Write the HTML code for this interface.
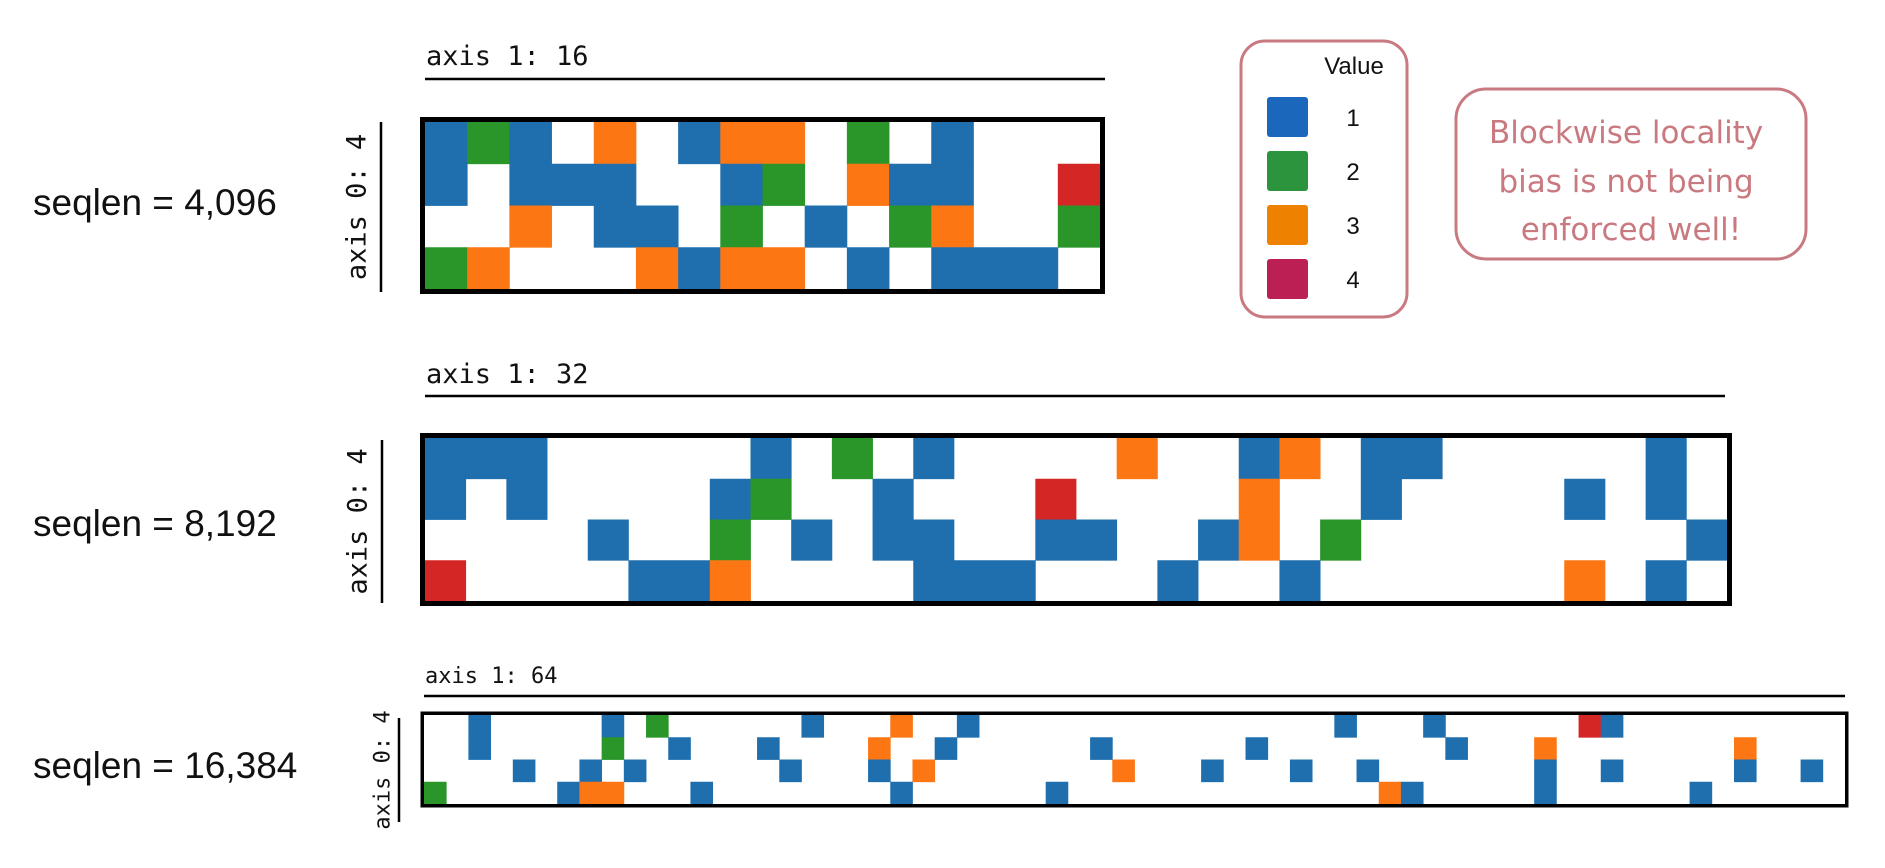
<!DOCTYPE html>
<html><head><meta charset="utf-8"><style>
html,body{margin:0;padding:0;background:#fff;}
svg{display:block;}
.mono{font-family:"DejaVu Sans Mono","Liberation Mono",monospace;fill:#111;}
.sans{font-family:"Liberation Sans","DejaVu Sans",sans-serif;fill:#111;}
</style></head><body>
<svg id="chart" width="1885" height="868" viewBox="0 0 1885 868" xmlns="http://www.w3.org/2000/svg">
<g id="g1"></g>
<g id="g2"></g>
<g id="g3"></g>

<text class="sans" x="33" y="215" font-size="37">seqlen = 4,096</text>
<text class="sans" x="33" y="536" font-size="37">seqlen = 8,192</text>
<text class="sans" x="33" y="778" font-size="37">seqlen = 16,384</text>

<g>
<rect x="1241" y="41" width="166" height="276" rx="24" fill="none" stroke="#c97a80" stroke-width="3"/>
<text class="sans" x="1354" y="74" font-size="24" text-anchor="middle">Value</text>
<rect x="1267" y="97" width="41" height="40" rx="3" fill="#1a67bb"/>
<rect x="1267" y="151" width="41" height="40" rx="3" fill="#2b943d"/>
<rect x="1267" y="205" width="41" height="40" rx="3" fill="#ee8200"/>
<rect x="1267" y="259" width="41" height="40" rx="3" fill="#bb1f53"/>
<text class="sans" x="1353" y="126" font-size="24" text-anchor="middle">1</text>
<text class="sans" x="1353" y="180" font-size="24" text-anchor="middle">2</text>
<text class="sans" x="1353" y="234" font-size="24" text-anchor="middle">3</text>
<text class="sans" x="1353" y="288" font-size="24" text-anchor="middle">4</text>
</g>

<g>
<rect x="1456" y="89" width="350" height="170" rx="30" fill="none" stroke="#c97a80" stroke-width="3"/>
<text font-family="'DejaVu Sans',sans-serif" font-size="31" fill="#c97a80" text-anchor="middle">
<tspan x="1631" y="143">Blockwise locality</tspan>
<tspan x="1631" y="192">bias is not being</tspan>
<tspan x="1631" y="240">enforced well!</tspan>
</text>
</g>
</svg>
<script>
// Data: cell values per grid, rows 0..3 (0 = empty)
const grid1Rows = [
  [1,2,1,0,3,0,1,3,3,0,2,0,1,0,0,0],
  [1,0,1,1,1,0,0,1,2,0,3,1,1,0,0,4],
  [0,0,3,0,1,1,0,2,0,1,0,2,3,0,0,2],
  [2,3,0,0,0,3,1,3,3,0,1,0,1,1,1,0]
];
// grid 2 and 3 as sparse [col, value] lists per row
const grid2Row0 = [[0,1],[1,1],[2,1],[8,1],[10,2],[12,1],[17,3],[20,1],[21,3],[23,1],[24,1],[30,1]];
const grid2Row1 = [[0,1],[2,1],[7,1],[8,2],[11,1],[15,4],[20,3],[23,1],[28,1],[30,1]];
const grid2Row2 = [[4,1],[7,2],[9,1],[11,1],[12,1],[15,1],[16,1],[19,1],[20,3],[22,2],[31,1]];
const grid2Row3 = [[0,4],[5,1],[6,1],[7,3],[12,1],[13,1],[14,1],[18,1],[21,1],[28,3],[30,1]];
const grid3Row0 = [[2,1],[8,1],[10,2],[17,1],[21,3],[24,1],[41,1],[45,1],[52,4],[53,1]];
const grid3Row1 = [[2,1],[8,2],[11,1],[15,1],[20,3],[23,1],[30,1],[37,1],[46,1],[50,3],[59,3]];
const grid3Row2 = [[4,1],[7,1],[9,1],[16,1],[20,1],[22,3],[31,3],[35,1],[39,1],[42,1],[50,1],[53,1],[59,1],[62,1]];
const grid3Row3 = [[0,2],[6,1],[7,3],[8,3],[12,1],[21,1],[28,1],[43,3],[44,1],[50,1],[57,1]];
const axisTitles = ["axis 1: 16","axis 1: 32","axis 1: 64"];
const yTitles = ["axis 0: 4","axis 0: 4","axis 0: 4"];

const NS = "http://www.w3.org/2000/svg";
const colors = {1:"#1f6fae",2:"#2a962a",3:"#fd7614",4:"#d52626"};
function mk(tag, attrs, parent){
  const e = document.createElementNS(NS, tag);
  for (const k in attrs) e.setAttribute(k, attrs[k]);
  parent.appendChild(e); return e;
}
function drawGrid(g, rows, cols, L, T, W, H, bw, title, titleY, lineY, lineR, tFont, yT, yLineX, yTextX, yLine0, yLine1, yFont){
  const cw = W/cols, ch = H/4;
  const xs = c => L + c*cw;
  const ys = r => T + r*ch;
  rows.forEach((row, r) => {
    row.forEach(([c, v]) => {
      if (!v) return;
      const rc = mk("rect", {x:xs(c), y:ys(r), width:cw+0.4, height:ch+0.4, fill:colors[v]}, g);
      
      
    });
  });
  const b = mk("rect", {x:L-bw/2, y:T-bw/2, width:W+bw, height:H+bw, fill:"none", stroke:"#000", "stroke-width":bw}, g);
  
  
  const t = mk("text", {x:L+1, y:titleY, "font-size":tFont, class:"mono"}, g);
  t.textContent = title;
  
  
  const ln = mk("line", {x1:L, x2:lineR, y1:lineY, y2:lineY, stroke:"#000", "stroke-width":2.5}, g);
  
  
  const yl = mk("line", {x1:yLineX, x2:yLineX, y1:yLine0, y2:yLine1, stroke:"#000", "stroke-width":2.5}, g);
  
  
  const cy = (yLine0+yLine1)/2;
  const yt = mk("text", {x:yTextX, y:cy, "font-size":yFont, class:"mono", "text-anchor":"middle", "dominant-baseline":"central", transform:`rotate(-90 ${yTextX} ${cy})`}, g);
  yt.textContent = yT;
  
  
}
const g1rows = grid1Rows.map(r => r.map((v,c)=>[c,v]));
drawGrid(document.getElementById("g1"), g1rows, 16, 425, 122, 675, 167, 5, axisTitles[0], 65, 79, 1105, 27, yTitles[0], 381, 357, 122, 292, 27);
drawGrid(document.getElementById("g2"), [grid2Row0,grid2Row1,grid2Row2,grid2Row3], 32, 425, 438, 1302, 163, 5, axisTitles[1], 383, 396, 1725, 27, yTitles[1], 382, 358, 440, 603, 27);
drawGrid(document.getElementById("g3"), [grid3Row0,grid3Row1,grid3Row2,grid3Row3], 64, 424, 715, 1421, 89, 3.5, axisTitles[2], 683, 696, 1845, 22, yTitles[2], 399, 383, 718, 822, 22);
</script>
</body></html>
